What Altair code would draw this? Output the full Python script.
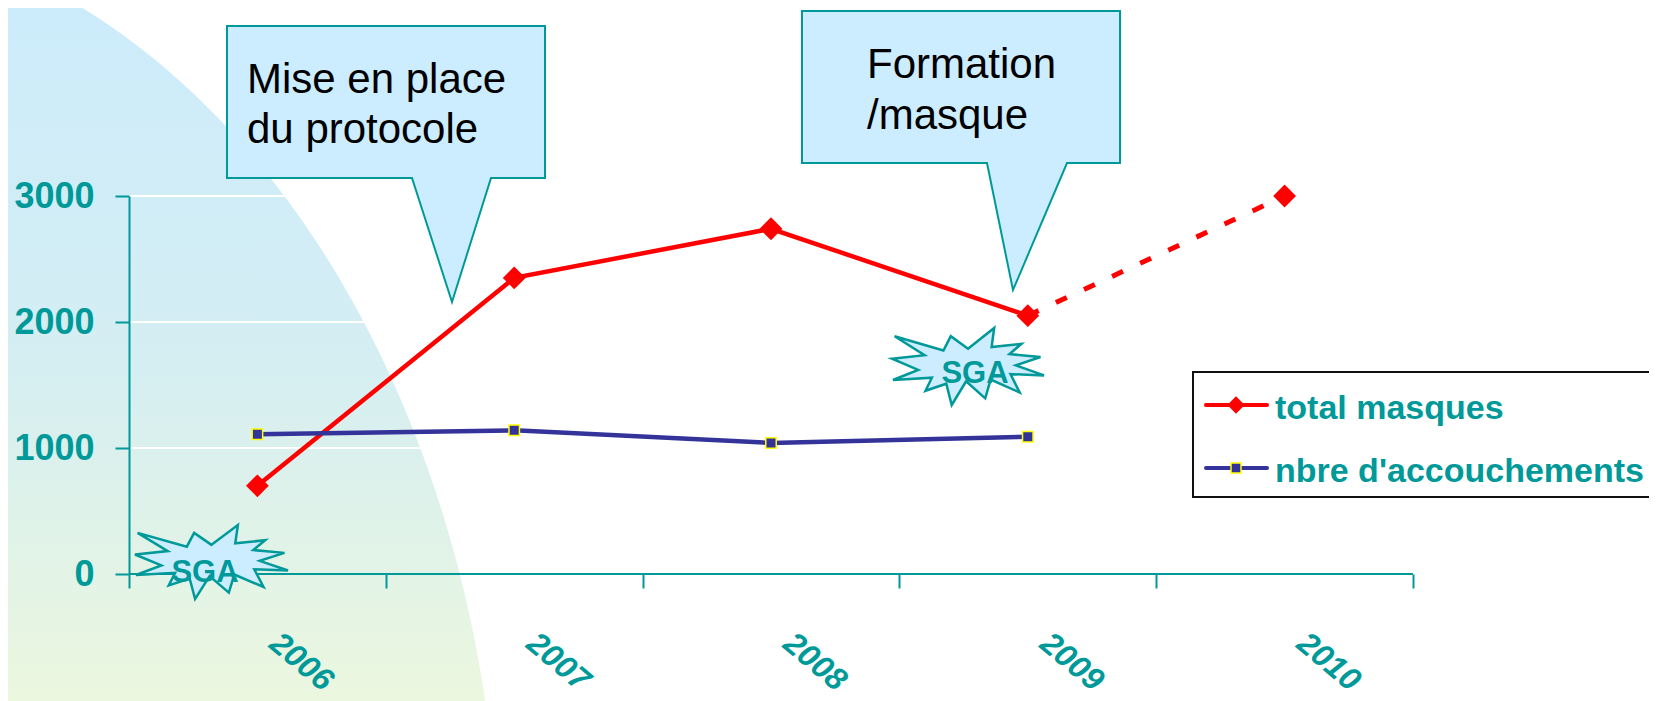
import altair as alt
import numpy as np
import pandas as pd

# ---------------- data ----------------
years = ["2006", "2007", "2008", "2009", "2010"]
total_masques = [700, 2350, 2740, 2050, 3000]
nbre_accouchements = [1110, 1140, 1040, 1090, None]
series_names = ["total masques", "nbre d'accouchements"]
y_ticks = [0, 1000, 2000, 3000]
callout_texts = [["Mise en place", "du protocole"], ["Formation", "/masque"]]
burst_label = "SGA"

# ---------------- styles ----------------
TEAL = "#009999"
RED = "#FF0000"
NAVY = "#333399"
CALLOUT_FILL = "#CCECFF"
SANS = "Liberation Sans, Arial, sans-serif"

# layout (reference page pixels)
W, H = 1284, 378           # plot area
OX, OY = 129, 196          # plot origin on the page
CW, CH = 1641, 693         # whole chart
PAD = {"left": OX - 8, "top": OY - 8, "right": CW - (OX - 8) - W, "bottom": CH - (OY - 8) - H}

one = pd.DataFrame({"k": [0]})


def shape_layer(points_ref, fill, stroke=None, stroke_width=0):
    pts = [(x - OX, y - OY) for x, y in points_ref]
    xs = [p[0] for p in pts]
    ys = [p[1] for p in pts]
    cx = (min(xs) + max(xs)) / 2
    cy = (min(ys) + max(ys)) / 2
    r = max(max(xs) - min(xs), max(ys) - min(ys)) / 2
    d = "M" + " L".join(f"{(x - cx) / r:.4f},{(y - cy) / r:.4f}" for x, y in pts) + " Z"
    kw = dict(shape=d, filled=True, fill=fill, opacity=1, size=(2 * r) ** 2, strokeWidth=0)
    if stroke:
        kw.update(stroke=stroke, strokeWidth=stroke_width, strokeJoin="miter")
    return alt.Chart(one).mark_point(**kw).encode(x=alt.value(cx), y=alt.value(cy))


# background ellipse segment with vertical gradient
ECX, ECY, EA, EB = -200, 900, 700, 975
ey = np.linspace(-12, 712, 80)
ex = ECX + EA * np.sqrt(1 - ((ey - ECY) / EB) ** 2)
bg_pts = [(-12, -12)] + list(zip(ex.tolist(), ey.tolist())) + [(-12, 712)]
bg_grad = {
    "gradient": "linear", "x1": 0, "y1": 0, "x2": 0, "y2": 1,
    "stops": [
        {"offset": 0, "color": "#CCEBFB"},
        {"offset": 0.5, "color": "#D4EEF3"},
        {"offset": 1, "color": "#ECF7DE"},
    ],
}
background = shape_layer(bg_pts, bg_grad)

# explosion (PowerPoint irregularSeal1)
seal = [(10800, 5800), (14522, 0), (14155, 5325), (18380, 4457), (16702, 7315),
        (21097, 8137), (17607, 10475), (21600, 13290), (16837, 12942), (18145, 18095),
        (14020, 14457), (13247, 19737), (10532, 14935), (8485, 21600), (7715, 15627),
        (4762, 17617), (5667, 13937), (135, 14587), (3722, 11775), (0, 8615),
        (4627, 7617), (370, 2295), (7312, 6320), (8352, 2295)]


def seal_pts(x0, y0, x1, y1):
    return [(x0 + (x1 - x0) * a / 21600, y0 + (y1 - y0) * b / 21600) for a, b in seal]


burst1 = shape_layer(seal_pts(135, 525, 288, 599), CALLOUT_FILL, TEAL, 2.5)
burst2 = shape_layer(seal_pts(892, 328, 1044, 405), CALLOUT_FILL, TEAL, 2.5)

callout1 = shape_layer([(227, 26), (545, 26), (545, 178), (491, 178), (452, 302), (412, 178), (227, 178)],
                       CALLOUT_FILL, TEAL, 2)
callout2 = shape_layer([(802, 11), (1120, 11), (1120, 163), (1067, 163), (1013, 290), (987, 163), (802, 163)],
                       CALLOUT_FILL, TEAL, 2)

# ---------------- scales / axes ----------------
xscale = alt.Scale(type="band", domain=years, paddingInner=0, paddingOuter=0)
yscale = alt.Scale(domain=[0, 3000], nice=False, zero=True)
xaxis = alt.Axis(
    title=None, domain=False, grid=False, ticks=True, tickBand="extent", tickSize=14, tickWidth=2,
    tickColor=TEAL, labelAngle=40, labelAlign="left", labelBaseline="top", labelPadding=39,
    labelOffset=26, labelFont=SANS, labelFontSize=32, labelFontWeight="bold", labelFontStyle="italic",
    labelColor=TEAL, labelOverlap=False, zindex=1,
)
yaxis = alt.Axis(
    title=None, values=y_ticks, format="d", domain=True, domainColor=TEAL, domainWidth=2,
    ticks=True, tickSize=14, tickWidth=2, tickColor=TEAL, grid=False, labelFont=SANS,
    labelFontSize=36, labelFontWeight="bold", labelColor=TEAL, labelPadding=21, zindex=1,
)


def X():
    return alt.X("annee:N", scale=xscale, axis=xaxis, title=None)


def Y(field="valeur"):
    return alt.Y(f"{field}:Q", scale=yscale, axis=yaxis, title=None)


df_red = pd.DataFrame({"annee": years, "valeur": total_masques})
df_blue = pd.DataFrame({"annee": years, "valeur": nbre_accouchements}).dropna()
df_grid = pd.DataFrame({"v": y_ticks[1:]})
df_zero = pd.DataFrame({"v": y_ticks[:1]})

grid = alt.Chart(df_grid).mark_rule(color="white", strokeWidth=2).encode(
    y=Y("v"), x=alt.value(0), x2=alt.value(W))
xdomain = alt.Chart(df_zero).mark_rule(color=TEAL, strokeWidth=2).encode(
    y=Y("v"), x=alt.value(0), x2=alt.value(W))

red_solid = alt.Chart(df_red.iloc[:4]).mark_line(color=RED, strokeWidth=4.5).encode(x=X(), y=Y())
red_dash = alt.Chart(df_red.iloc[3:]).mark_line(
    color=RED, strokeWidth=5, strokeDash=[12, 19]).encode(x=X(), y=Y())
red_pts = alt.Chart(df_red).mark_point(
    shape="diamond", filled=True, color=RED, size=520, opacity=1).encode(x=X(), y=Y())
blue_line = alt.Chart(df_blue).mark_line(color=NAVY, strokeWidth=4.5).encode(x=X(), y=Y())
blue_pts = alt.Chart(df_blue).mark_point(
    shape="square", filled=True, fill=NAVY, stroke="#FFFF00", strokeWidth=1.5, size=110,
    opacity=1).encode(x=X(), y=Y())


# text in shapes
def txt(x, y, t, **kw):
    return alt.Chart(one).mark_text(**kw).encode(x=alt.value(x - OX), y=alt.value(y - OY), text=alt.value(t))


sga1 = txt(205, 582, burst_label, align="center", baseline="alphabetic", font=SANS, fontSize=31,
           fontWeight="bold", color=TEAL)
sga2 = txt(975, 383, burst_label, align="center", baseline="alphabetic", font=SANS, fontSize=31,
           fontWeight="bold", color=TEAL)
ct1 = txt(247, 93, callout_texts[0], align="left", baseline="alphabetic", font=SANS, fontSize=42,
          color="black", lineHeight=50)
ct2 = txt(867, 78, callout_texts[1], align="left", baseline="alphabetic", font=SANS, fontSize=42,
          color="black", lineHeight=51)

# legend
legend_box = alt.Chart(one).mark_rect(fill="white", stroke="#111111", strokeWidth=2).encode(
    x=alt.value(1193 - OX), x2=alt.value(1760 - OX), y=alt.value(372 - OY), y2=alt.value(497 - OY))
legend_layers = [legend_box]
leg_styles = [
    dict(color=RED, shape="diamond", size=300, stroke=None),
    dict(color=NAVY, shape="square", size=100, stroke="#FFFF00"),
]
for i, (name, st) in enumerate(zip(series_names, leg_styles)):
    ly = 405 + 63 * i
    legend_layers.append(alt.Chart(one).mark_rule(color=st["color"], strokeWidth=4, strokeCap="round").encode(
        x=alt.value(1206 - OX), x2=alt.value(1267 - OX), y=alt.value(ly - OY)))
    pkw = dict(shape=st["shape"], filled=True, fill=st["color"], size=st["size"], opacity=1)
    if st["stroke"]:
        pkw.update(stroke=st["stroke"], strokeWidth=1.5)
    legend_layers.append(alt.Chart(one).mark_point(**pkw).encode(
        x=alt.value(1236 - OX), y=alt.value(ly - OY)))
    legend_layers.append(txt(1275, ly + 14, name, align="left", baseline="alphabetic", font=SANS,
                             fontSize=34, fontWeight="bold", color=TEAL))

chart = alt.layer(
    background, grid, xdomain,
    red_solid, red_dash, blue_line, red_pts, blue_pts,
    burst1, burst2, sga1, sga2,
    callout1, callout2, ct1, ct2,
    *legend_layers,
).properties(
    width=W, height=H, autosize=alt.AutoSizeParams(type="none"), padding=PAD, background="white",
).configure_view(stroke=None)

chart.save("out.html", embed_options={"renderer": "svg", "actions": False})
